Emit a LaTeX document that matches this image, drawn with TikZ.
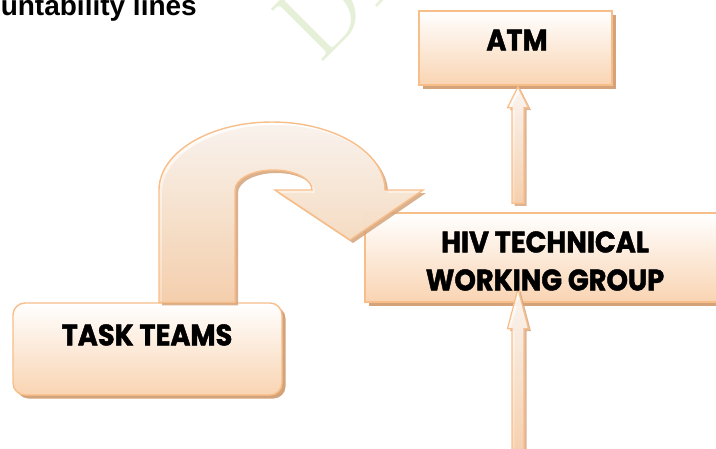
\documentclass[tikz,border=0pt]{standalone}
\usepackage{fontspec}
\usetikzlibrary{calc,shadows}
\newfontfamily\labelfont{Poppins}[BoldFeatures={FakeBold=1.6}]
\newfontfamily\titlefont{Liberation Sans}
\definecolor{edge}{RGB}{248,190,138}
\definecolor{peach}{RGB}{249,212,178}
\definecolor{shade}{RGB}{212,163,122}
\definecolor{wm}{RGB}{230,240,216}

% hollow upward block arrow: #1 tail, #2 tip, #3 head length
\newcommand{\hollowup}[3]{%
  \draw[blockarrow] let \p1=(#1), \p2=(#2) in
    (\x1-6pt,\y1) -- (\x1-6pt,\y2-#3pt) -- (\x1-10.5pt,\y2-#3pt) -- (\x2,\y2)
    -- (\x1+10.5pt,\y2-#3pt) -- (\x1+6pt,\y2-#3pt) -- (\x1+6pt,\y1) -- cycle;}
% taller caption line
\newcommand{\tall}[1]{\scalebox{1.03}[1.12]{#1}}

\begin{document}
\begin{tikzpicture}[x=1pt,y=-1pt,
  panel/.style={draw=edge, line width=1.4pt, top color=white, bottom color=peach,
    inner sep=0pt,
    drop shadow={shadow xshift=3.5pt, shadow yshift=-3.5pt, fill=shade, opacity=1}},
  caption/.style={font=\labelfont\bfseries\fontsize{26.5}{38}\selectfont,
    text=black, align=center, inner sep=0pt},
  blockarrow/.style={draw=edge, line width=1.2pt, top color=white,
    bottom color=peach, fill opacity=0.88,
    drop shadow={shadow xshift=2.5pt, shadow yshift=-2.5pt, fill=shade, opacity=0.8}},
  bigarrow/.style={draw=edge, line width=1.4pt, top color=white,
    bottom color=peach, fill opacity=0.85,
    drop shadow={shadow xshift=3pt, shadow yshift=-3pt, fill=shade, opacity=0.85}},
  heading/.style={font=\titlefont\bfseries\fontsize{28}{30}\selectfont,
    text=black, inner sep=0pt},
  stamp/.style={font=\fontsize{108}{108}\selectfont, text=wm, inner sep=0pt,
    rotate=45, anchor=base west}]

\useasboundingbox (0,0) rectangle (716,448);

% draft stamp in the background
\node[stamp] (stamp) at (319,66) {DR};

% heading, running off the left edge
\node[heading, anchor=base east] (title) at (197,15) {untability lines};

% boxes
\node[panel, minimum width=370pt, minimum height=89pt] (hiv) at (550,257.5) {};
\node[panel, minimum width=193pt, minimum height=74pt] (atm) at (515.5,48) {};
\node[panel, rounded corners=12pt, minimum width=269pt, minimum height=92pt]
  (task) at (147.5,349) {};

% end points of the upward arrows
\coordinate (atmIn)  at ($(atm.south)+(2.5,1)$);
\coordinate (hivOut) at ($(hiv.north)+(-32,-9)$);
\coordinate (hivIn)  at ($(hiv.south)+(-32,-14)$);
\coordinate (feed)   at ($(hiv.south)+(-32,150)$);

\hollowup{hivOut}{atmIn}{21}
\hollowup{feed}{hivIn}{40}

% U-turn arrow from the task teams over to the working group
\coordinate (uL) at ($(task.north)+(11.5,0)$);
\coordinate (uR) at ($(task.north)+(87.5,0)$);
\draw[bigarrow] (uL) -- (159,190)
  arc[start angle=180, end angle=360, x radius=113, y radius=68]
  -- (423,190) -- (350,240) -- (275,190) -- (312,190)
  arc[start angle=360, end angle=180, x radius=38.5, y radius=20]
  -- (uR) -- cycle;

% captions
\node[caption] (atmtext)  at (517,40)  {\tall{ATM}};
\node[caption] (hivtext)  at (545,261) {\tall{HIV TECHNICAL}\\\tall{WORKING GROUP}};
\node[caption] (tasktext) at (147,335) {\tall{TASK TEAMS}};

\end{tikzpicture}
\end{document}
